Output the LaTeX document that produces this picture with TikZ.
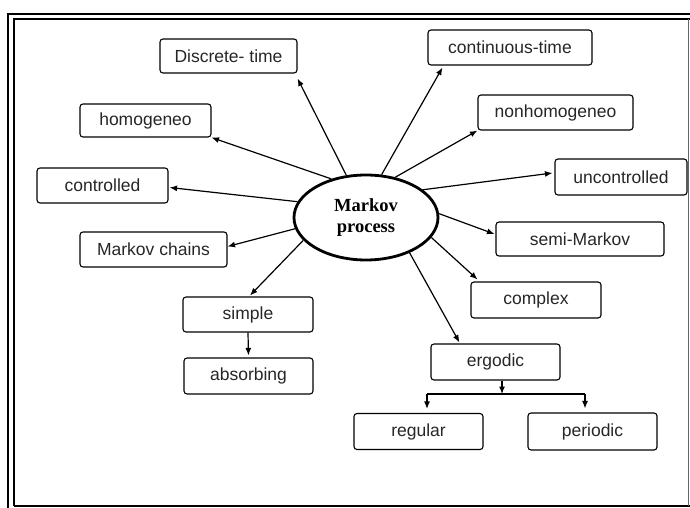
\documentclass[tikz,border=0pt]{standalone}
\usepackage{fontspec}
\setmainfont{Liberation Sans}
\newfontfamily\mpserif{Liberation Serif}
\usetikzlibrary{arrows.meta,calc,shapes.geometric}
\begin{document}
\begin{tikzpicture}[x=1pt,y=-1pt,
  box/.style={draw, line width=1.1pt, rounded corners=3pt, inner sep=0pt,
    text=black!85, font=\fontsize{17.5}{19}\selectfont},
  arr/.style={line width=1.2pt, -{Latex[length=7.5pt,width=6pt]}},
  plain/.style={line width=1.2pt},
  frameout/.style={line width=1.4pt},
  framein/.style={line width=2.2pt}
  ]
\useasboundingbox (0,0) rectangle (690,508);
% frame
\draw[frameout] (8,520) -- (8,14) -- (700,14);
\draw[framein] (14,506) -- (14,19) -- (700,19);
\draw[framein] (14,506) -- (700,506);
\draw[line width=0.8pt, black!60] (688.5,19) -- (688.5,506);
% centre
\node[draw, ellipse, line width=2.8pt, minimum width=144pt, minimum height=85pt,
  inner sep=0pt, align=center, font=\mpserif\bfseries\fontsize{18.5}{20.5}\selectfont]
  (mp) at (366,217.5) {Markov\\process};
% boxes
\node[box, minimum width=137pt, minimum height=34pt] (dt) at (228.5,56) {Discrete- time};
\node[box, minimum width=164pt, minimum height=35pt] (ct) at (510,47.5) {continuous-time};
\node[box, minimum width=131pt, minimum height=33pt] (hom) at (145.5,120.5) {homogeneo};
\node[box, minimum width=155pt, minimum height=35pt] (nhom) at (555.5,112.5) {nonhomogeneo};
\node[box, minimum width=131pt, minimum height=35pt] (con) at (102.5,185.5) {controlled};
\node[box, minimum width=132pt, minimum height=36pt] (uncon) at (621,177) {uncontrolled};
\node[box, minimum width=147pt, minimum height=35pt] (mc) at (153.5,249.5) {Markov chains};
\node[box, minimum width=168pt, minimum height=34pt] (semi) at (580,239) {semi-Markov};
\node[box, minimum width=130pt, minimum height=35pt] (simple) at (248,314.5) {simple};
\node[box, minimum width=130pt, minimum height=36pt] (cplx) at (536,300) {complex};
\node[box, minimum width=129pt, minimum height=36pt] (absb) at (248.5,376) {absorbing};
\node[box, minimum width=129pt, minimum height=36pt] (ergo) at (495.5,362) {ergodic};
\node[box, minimum width=129pt, minimum height=36pt] (reg) at (418.5,431.5) {regular};
\node[box, minimum width=129pt, minimum height=37pt] (per) at (592.5,431.5) {periodic};
% connectors from the centre
\draw[arr] (mp.115) -- ($(dt.south east)+(0,5)$);
\draw[arr] (mp.70) -- ($(ct.south west)+(15,2)$);
\draw[arr] (mp.132) -- (hom.south east);
\draw[arr] (mp.54) -- (nhom.south west);
\draw[arr] (mp.167) -- ($(con.east)+(1,2)$);
\draw[arr] (mp.26.6) -- ($(uncon.west)+(-2,-4)$);
\draw[arr] (mp.189) -- ($(mc.east)+(0,-3)$);
\draw[arr] (mp.3) -- ($(semi.west)+(-1,-5)$);
\draw[arr] (mp.200.6) -- ($(simple.north)+(2,-1)$);
\draw[arr] (mp.-17) -- ($(cplx.north west)+(7,-2)$);
\draw[arr] (mp.-39) -- ($(ergo.north west)+(29,-1)$);
% lower tree
\draw[arr, shorten >=2pt] (simple.south) -- (absb.north);
\coordinate (j) at (502,394);
\coordinate (jl) at (427,394);
\coordinate (jr) at (585,394);
\draw[arr] (ergo.south -| j) -- (j);
\draw[plain] (jl) -- (jr);
\draw[arr, shorten >=4pt] (jl) -- (jl |- reg.north);
\draw[arr, shorten >=4pt] (jr) -- (jr |- per.north);
\end{tikzpicture}
\end{document}
